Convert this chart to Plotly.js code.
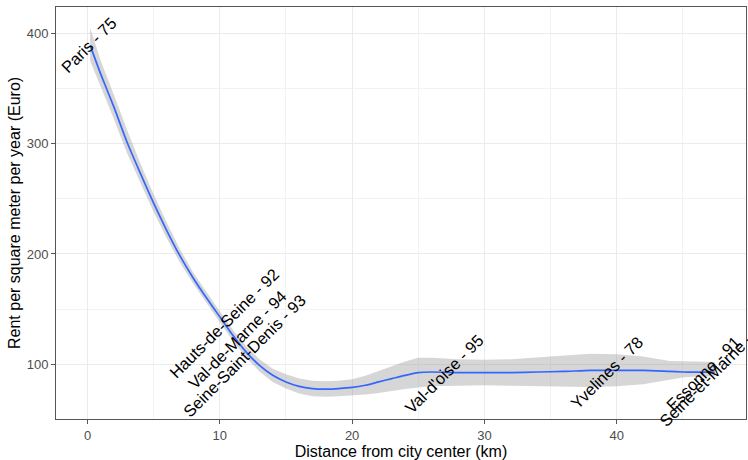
<!DOCTYPE html>
<html>
<head>
<meta charset="utf-8">
<script src="https://cdn.plot.ly/plotly-3.0.1.min.js"></script>
<style>html,body{margin:0;padding:0;background:#fff;}#chart{width:748px;height:460px;}</style>
</head>
<body>
<div id="chart"></div>
<script>
// Loess smooth
var smoothX = [0.2,1,2,3,4,5,6,7,8,9,10,11,12,13,14,15,16,17,18,19,20,21,22,23,24,25,26,28,30,32,34,36,38,40,42,44,45,46,47.4];
var smoothY = [389,363,333,301,273,246,221,198,178,160,143,126,111,99,90,84,80,78,77.5,78,79,81,84,87,90,92.5,93,92.5,92.5,92.5,93,93.5,94.5,94.5,94.5,93.5,93,92.8,92.8];
var smoothLower = [375,352,322,291,264,238,214,192,173,155,138,121,106,93.5,84,78,73.5,71,70.5,71,71.5,72.5,74,76,77.5,79,80,80.5,81,80.5,80,79.5,79.5,80,82,86,88,89,89];
var smoothUpper = [405,375,344,312,282,254,228,204,183,165,148,131,116,104.5,96,91,87,85,84.5,85,86.5,89.5,94,98,102.5,106,106,104.5,104,104.5,106,107.5,109.5,109,107,103,102.5,102.5,102];

// Department labels (placed at their data points)
var labelText = ["Paris - 75","Hauts-de-Seine - 92","Val-de-Marne - 94","Seine-Saint-Denis - 93","Val-d'oise - 95","Yvelines - 78","Essonne - 91","Seine-et-Marne - 77"];
var labelX = [0.1, 10.35, 11.37, 11.83, 26.95, 39.3, 46.56, 47.33];
var labelY = [389, 137, 122.5, 107.5, 90.8, 92.6, 91.7, 92.9];

var xTicks = [0,10,20,30,40];
var yTicks = [100,200,300,400];

var xTitle = "Distance from city center (km)";
var yTitle = "Rent per square meter per year (Euro)";

var FONT = "Liberation Sans, Arial, sans-serif";

var traces = [
  {x: smoothX, y: smoothLower, mode: "lines", line: {width: 0}, hoverinfo: "skip", showlegend: false},
  {x: smoothX, y: smoothUpper, mode: "lines", line: {width: 0}, fill: "tonexty",
   fillcolor: "rgba(153,153,153,0.4)", hoverinfo: "skip", showlegend: false},
  {x: smoothX, y: smoothY, mode: "lines", line: {color: "#3366FF", width: 1.7, shape: "spline", smoothing: 0.6}, showlegend: false}
];

var annotations = labelText.map(function(t, i){
  return {x: labelX[i], y: labelY[i], xref: "x", yref: "y", text: t, showarrow: false,
          textangle: -45, xanchor: "center", yanchor: "middle",
          font: {family: FONT, size: 16.4, color: "#000000"}};
});
annotations.push({x: 0, y: 0.5, xref: "paper", yref: "paper", xshift: -42, text: yTitle,
  showarrow: false, textangle: -90, xanchor: "center", yanchor: "middle",
  font: {family: FONT, size: 16, color: "#000000"}});

var axisCommon = {
  showline: true, mirror: true, linecolor: "#555555", linewidth: 1,
  showgrid: true, gridcolor: "#ebebeb", gridwidth: 1.1,
  zeroline: false, ticks: "outside", ticklen: 4, tickcolor: "#555555", tickwidth: 1,
  tickfont: {family: FONT, size: 13, color: "#4d4d4d"}
};

var layout = {
  width: 748, height: 460,
  margin: {l: 56, r: 2, t: 7, b: 41, pad: 0},
  paper_bgcolor: "#ffffff", plot_bgcolor: "#ffffff",
  showlegend: false,
  xaxis: Object.assign({}, axisCommon, {
    range: [-2.38, 49.77], tickmode: "array", tickvals: xTicks, ticktext: xTicks.map(String),
    minor: {tickmode: "array", tickvals: [5,15,25,35,45], showgrid: true, gridcolor: "#f2f2f2", gridwidth: 1, ticks: ""},
    title: {text: xTitle, font: {family: FONT, size: 16, color: "#000000"}, standoff: 5}
  }),
  yaxis: Object.assign({}, axisCommon, {
    range: [50.4, 423.8], tickmode: "array", tickvals: yTicks, ticktext: yTicks.map(String),
    minor: {tickmode: "array", tickvals: [150,250,350], showgrid: true, gridcolor: "#f2f2f2", gridwidth: 1, ticks: ""}
  }),
  annotations: annotations
};

Plotly.newPlot("chart", traces, layout, {staticPlot: true, displayModeBar: false});
</script>
</body>
</html>
